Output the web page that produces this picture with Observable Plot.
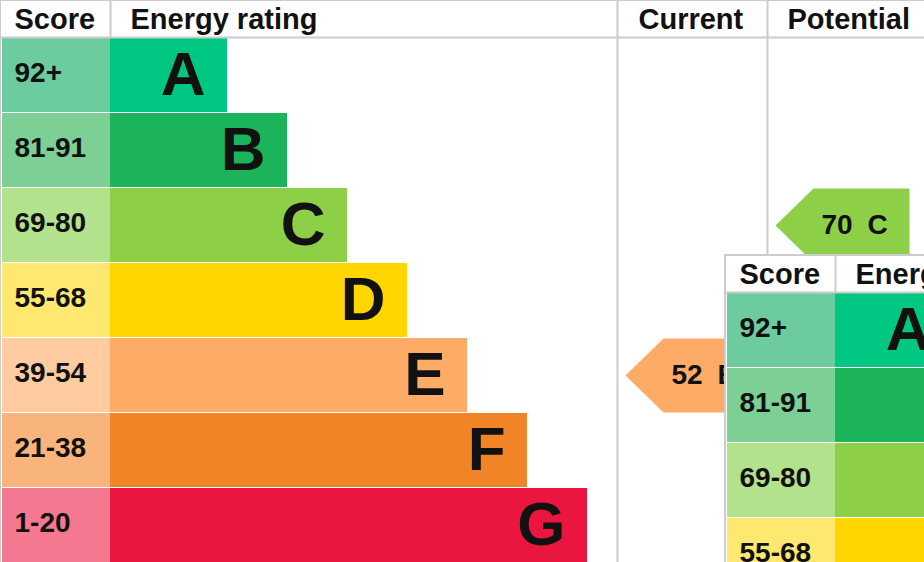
<!DOCTYPE html>
<html>
<head>
<meta charset="utf-8">
<script src="https://cdn.jsdelivr.net/npm/d3@7"></script>
<script src="https://cdn.jsdelivr.net/npm/@observablehq/plot@0.6"></script>
<style>
  html, body { margin: 0; padding: 0; background: #fff; }
  #wrap { width: 924px; height: 562px; overflow: hidden; position: relative; }
  #wrap svg { overflow: hidden; display: block; }
</style>
</head>
<body>
<div id="wrap"></div>
<script>
// ---- data ----
const ratings = ["A", "B", "C", "D", "E", "F", "G"];
const scoreRanges = ["92+", "81-91", "69-80", "55-68", "39-54", "21-38", "1-20"];
const bandColors = ["#00c781", "#1cb45a", "#8dcf47", "#ffd600", "#fdab66", "#f08426", "#eb1640"];
const scoreColors = ["#6ccca0", "#7cd096", "#b3e28c", "#ffe870", "#fecca0", "#f9b47b", "#f47890"];
const columnHeaders = ["Score", "Energy rating", "Current", "Potential"];
const currentScore = 52, currentRating = "E";
const potentialScore = 70, potentialRating = "C";

// ---- layout ----
const W = 924, H = 562;
const headerH = 37, rowH = 75;
const scoreX0 = 2, barStart = 110, barBase = 117, barStep = 60;
const currentCol = 617, potentialCol = 767;
const headerX = [14, 130, 638, 787];
const insetOffset = [725, 255];
const gridColor = "#cccccc";
const ink = "#111111";
const font = "'Liberation Sans', Arial, Helvetica, sans-serif";

function chartMarks(ox, oy) {
  const rowTop = i => oy + headerH + i * rowH;
  const rows = ratings.map((r, i) => ({
    rating: r, range: scoreRanges[i], color: bandColors[i], light: scoreColors[i],
    top: rowTop(i) + 1, bottom: rowTop(i) + rowH, mid: rowTop(i) + rowH / 2 + 0.5,
    barEnd: ox + barStart + barBase + barStep * i
  }));
  const arrowsData = [
    {score: currentScore, rating: currentRating, col: currentCol},
    {score: potentialScore, rating: potentialRating, col: potentialCol}
  ].map(a => {
    const i = ratings.indexOf(a.rating);
    const tip = ox + a.col + 8;
    return {...a, tip, top: rowTop(i) + 1, bottom: rowTop(i) + rowH, mid: rowTop(i) + rowH / 2 + 0.5,
      end: tip + 134, color: bandColors[i]};
  });
  const arrowPts = arrowsData.flatMap((a, k) => [
    {k, x: a.tip, y: a.mid, color: a.color},
    {k, x: a.tip + 38, y: a.top, color: a.color},
    {k, x: a.end, y: a.top, color: a.color},
    {k, x: a.end, y: a.bottom, color: a.color},
    {k, x: a.tip + 38, y: a.bottom, color: a.color}
  ]);
  const headers = columnHeaders.map((t, i) => ({t, x: ox + headerX[i], y: oy + 19}));
  return [
    Plot.rect([0], {x1: ox, x2: ox + W + 40, y1: oy, y2: oy + H + 40, fill: "white", stroke: gridColor, strokeWidth: 2}),
    Plot.rect(rows, {x1: ox + scoreX0, x2: ox + barStart, y1: "top", y2: "bottom", fill: d => d.light}),
    Plot.rect(rows, {x1: ox + barStart, x2: "barEnd", y1: "top", y2: "bottom", fill: d => d.color}),
    Plot.text(rows, {x: ox + 14, y: d => d.mid - 2, text: "range", textAnchor: "start", fontSize: 28, fontWeight: "bold", fill: ink, fontFamily: font}),
    Plot.text(rows, {x: d => d.barEnd - 22, y: "mid", text: "rating", textAnchor: "end", fontSize: 62, fontWeight: "bold", fill: ink, fontFamily: font}),
    Plot.ruleY([oy + headerH], {x1: ox, x2: ox + W + 40, stroke: gridColor, strokeWidth: 2}),
    Plot.ruleX([ox + barStart], {y1: oy, y2: oy + headerH, stroke: gridColor, strokeWidth: 2}),
    Plot.ruleX([ox + currentCol, ox + potentialCol], {y1: oy, y2: oy + H + 40, stroke: gridColor, strokeWidth: 2}),
    Plot.text(headers, {x: "x", y: "y", text: "t", textAnchor: "start", fontSize: 29, fontWeight: "bold", fill: ink, fontFamily: font}),
    Plot.line(arrowPts, {x: "x", y: "y", z: "k", fill: d => d.color, stroke: null, curve: "linear-closed"}),
    Plot.text(arrowsData, {x: d => d.tip + 46, y: "mid", text: d => String(d.score), textAnchor: "start", fontSize: 28, fontWeight: "bold", fill: ink, fontFamily: font}),
    Plot.text(arrowsData, {x: d => d.tip + 92, y: "mid", text: "rating", textAnchor: "start", fontSize: 28, fontWeight: "bold", fill: ink, fontFamily: font})
  ];
}

const plot = Plot.plot({
  width: W, height: H, margin: 0,
  x: {type: "linear", domain: [0, W], range: [0, W], axis: null},
  y: {type: "linear", domain: [0, H], range: [0, H], axis: null},
  style: {background: "white", fontFamily: font},
  marks: [
    ...chartMarks(0, 0),
    ...chartMarks(insetOffset[0], insetOffset[1])
  ]
});
document.getElementById("wrap").appendChild(plot);
</script>
</body>
</html>
